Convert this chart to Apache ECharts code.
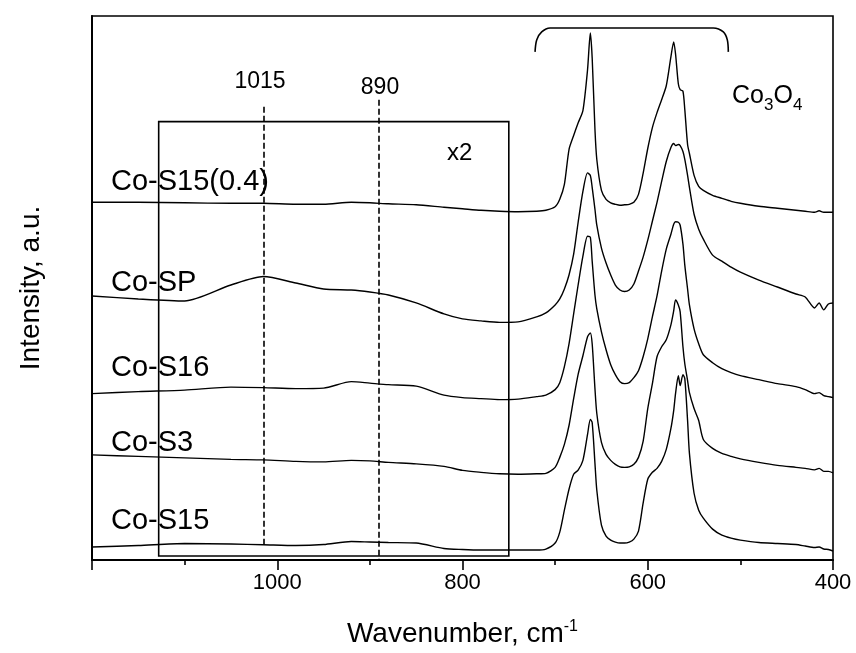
<!DOCTYPE html>
<html>
<head>
<meta charset="utf-8">
<style>
  html, body { margin: 0; padding: 0; background: #fff; }
  #chart { width: 856px; height: 653px; }
</style>
<script src="https://cdn.jsdelivr.net/npm/echarts@6/dist/echarts.min.js"></script>
</head>
<body>
<div id="chart"></div>
<script>
// shared wavenumber grid (cm-1)
const wavenumber = [1200, 1150, 1100, 1050, 1015, 980, 950, 920, 900, 880,
  850, 820, 800, 780, 760, 740, 720, 710, 700, 695,
  690, 685, 680, 675, 670, 665, 662, 660, 657, 655,
  650, 645, 640, 635, 630, 625, 620, 615, 610, 605,
  600, 595, 590, 585, 580, 575, 572, 570, 567, 565,
  562, 560, 557, 555, 550, 545, 540, 530, 520, 510,
  500, 480, 460, 440, 430, 420, 415, 410, 405, 400];

// stacked intensities, a.u. (1128-750 cm-1 part is already shown x2)
const coS15_04 = [35.9, 35.9, 35.85, 35.8, 35.8, 35.7, 35.7, 35.9, 35.85, 35.75,
  35.65, 35.4, 35.25, 35.1, 35.0, 34.95, 35.0, 35.1, 35.45, 36.2,
  37.7, 41.2, 42.6, 43.9, 45.1, 49.2, 52.9, 50.4, 43.2, 40.2,
  37.1, 36.2, 35.85, 35.7, 35.6, 35.65, 35.7, 35.9, 36.7, 38.8,
  41.3, 43.4, 44.9, 46.2, 47.6, 50.5, 52.0, 50.8, 47.8, 47.2,
  47.05, 45.2, 41.7, 40.8, 38.6, 37.5, 37.1, 36.6, 36.3, 36.0,
  35.8, 35.5, 35.3, 35.1, 35.0, 34.9, 35.05, 34.9, 34.9, 34.9];

const coSP = [26.5, 26.2, 26.0, 27.6, 28.45, 27.8, 27.2, 27.1, 26.9, 26.6,
  25.8, 24.7, 24.2, 24.0, 23.85, 23.9, 24.4, 24.8, 25.6, 26.2,
  27.2, 28.6, 30.7, 34.0, 37.0, 38.85, 38.6, 37.4, 35.2, 33.6,
  31.3, 29.8, 28.6, 27.6, 27.1, 26.95, 27.1, 27.7, 29.0, 30.4,
  32.1, 34.0, 35.9, 38.0, 40.0, 41.4, 41.8, 41.6, 41.7, 41.6,
  41.0, 40.2, 38.6, 37.4, 34.7, 33.2, 32.2, 30.6, 30.0, 29.4,
  28.9, 28.1, 27.4, 26.7, 26.4, 25.3, 25.8, 25.1, 25.7, 25.8];

const coS16 = [16.7, 16.9, 17.05, 17.35, 17.3, 17.2, 17.25, 17.9, 17.75, 17.6,
  17.45, 16.55, 16.3, 16.2, 16.1, 16.15, 16.4, 16.55, 17.1, 17.8,
  19.4, 21.7, 24.7, 27.7, 30.5, 32.5, 32.4, 30.0, 26.6, 25.2,
  22.9, 21.1, 19.6, 18.6, 17.9, 17.7, 17.8, 18.3, 19.0, 20.4,
  22.2, 24.4, 26.5, 29.0, 31.2, 32.7, 33.7, 33.95, 33.9, 33.6,
  31.7, 29.6, 27.2, 25.6, 23.2, 21.7, 20.6, 19.8, 19.2, 18.8,
  18.5, 18.1, 17.7, 17.4, 17.1, 16.7, 16.8, 16.5, 16.4, 16.3];

const coS3 = [10.55, 10.4, 10.25, 10.1, 10.05, 9.9, 9.85, 10.0, 9.95, 9.8,
  9.65, 9.4, 9.0, 8.8, 8.65, 8.6, 8.65, 8.7, 9.3, 10.3,
  11.6, 13.5, 16.2, 18.7, 20.5, 22.4, 22.8, 21.7, 17.2, 14.7,
  11.8, 10.6, 10.0, 9.6, 9.35, 9.3, 9.35, 9.6, 10.3, 11.9,
  15.2, 17.7, 20.4, 21.4, 22.1, 23.6, 25.0, 26.1, 25.6, 24.9,
  21.4, 19.7, 18.0, 16.8, 15.2, 14.0, 12.1, 11.2, 10.7, 10.4,
  10.15, 9.8, 9.5, 9.3, 9.2, 9.05, 9.2, 8.9, 8.9, 8.75];

const coS15 = [1.3, 1.45, 1.65, 1.6, 1.53, 1.45, 1.55, 1.85, 1.8, 1.75,
  1.7, 1.15, 1.05, 1.0, 1.0, 1.0, 1.0, 1.1, 1.7, 2.8,
  5.0, 7.1, 8.6, 9.05, 10.0, 12.6, 14.1, 13.8, 9.7, 7.0,
  3.5, 2.4, 2.0, 1.8, 1.7, 1.7, 1.8, 2.1, 2.9, 5.7,
  8.1, 8.8, 9.2, 9.9, 11.1, 13.2, 15.0, 16.7, 18.5, 17.5,
  18.6, 18.2, 14.0, 10.7, 6.7, 5.0, 4.2, 3.1, 2.5, 2.2,
  2.0, 1.75, 1.65, 1.55, 1.4, 1.25, 1.3, 1.1, 1.05, 0.9];

const sampleNames = ['Co-S15(0.4)', 'Co-SP', 'Co-S16', 'Co-S3', 'Co-S15'];
const sampleData = [coS15_04, coSP, coS16, coS3, coS15];

// x-axis ticks (cm-1)
const xMin = 400, xMax = 1200, xStep = 200;

// annotations
const markerWn = [1015, 890];
const markerTop = [45.5, 46.2];
const markerBottom = [1.3, 0];
const zoomBoxWn = [1128, 750];
const zoomBoxI = [0.4, 44.0];
const bracketWn = [721.7, 719.9, 714.5, 705.5, 529.2, 518.4, 514.1, 513.0];
const bracketI = [51.0, 52.2, 53.0, 53.4, 53.4, 53.0, 52.2, 51.0];

const FONT = '"Liberation Sans", Arial, Helvetica, sans-serif';

var myChart = echarts.init(document.getElementById('chart'));

function pairs(xs, ys) {
    return xs.map((x, i) => [x, ys[i]]);
}

const spectra = sampleNames.map((name, k) => ({
    name: name,
    type: 'line',
    data: pairs(wavenumber, sampleData[k]),
    symbol: 'none',
    smooth: 0.25,
    lineStyle: { color: '#000', width: 1.4 },
    silent: true,
    z: 3
}));

const bracket = {
    name: 'bracket',
    type: 'line',
    data: pairs(bracketWn, bracketI),
    symbol: 'none',
    smooth: 0.3,
    lineStyle: { color: '#000', width: 1.6 },
    silent: true,
    markArea: {
        silent: true,
        itemStyle: { color: 'rgba(0,0,0,0)', borderColor: '#000', borderWidth: 1.6 },
        data: [[
            { coord: [zoomBoxWn[0], zoomBoxI[1]] },
            { coord: [zoomBoxWn[1], zoomBoxI[0]] }
        ]]
    },
    markLine: {
        silent: true,
        symbol: 'none',
        label: { show: false },
        lineStyle: { color: '#000', width: 1.6, type: [6, 3] },
        data: markerWn.map((w, i) => [
            { coord: [w, markerTop[i]] },
            { coord: [w, markerBottom[i]] }
        ])
    }
};

function txt(text, x, y, size, align) {
    return {
        type: 'text',
        x: x,
        y: y,
        silent: true,
        style: {
            text: text,
            fontSize: size,
            fontFamily: FONT,
            fill: '#000',
            align: align || 'left',
            verticalAlign: 'middle'
        }
    };
}

const labelY = [182, 283, 368, 443, 521];

const option = {
    animation: false,
    backgroundColor: '#fff',
    grid: {
        left: 92, right: 23, top: 16, bottom: 91,
        show: true, borderColor: '#000', borderWidth: 1.6,
        containLabel: false
    },
    xAxis: {
        type: 'value',
        inverse: true,
        min: xMin,
        max: xMax,
        interval: xStep,
        name: '{a|Wavenumber, cm}{b|-1}',
        nameLocation: 'middle',
        nameGap: 59,
        nameTextStyle: {
            rich: {
                a: { fontSize: 28, fontFamily: FONT, color: '#000', lineHeight: 30 },
                b: { fontSize: 16, fontFamily: FONT, color: '#000', verticalAlign: 'top', lineHeight: 30 }
            }
        },
        axisLine: { lineStyle: { color: '#000', width: 2 } },
        axisTick: { length: 10, lineStyle: { color: '#000', width: 1.6 } },
        minorTick: { show: true, splitNumber: 2, length: 5, lineStyle: { color: '#000', width: 1.6 } },
        axisLabel: {
            fontSize: 22, fontFamily: FONT, color: '#000', margin: 12,
            formatter: v => (v === xMax ? '' : String(v))
        },
        splitLine: { show: false },
        minorSplitLine: { show: false }
    },
    yAxis: {
        type: 'value',
        min: 0,
        max: 54.6,
        name: 'Intensity, a.u.',
        nameLocation: 'middle',
        nameRotate: 90,
        nameGap: 47,
        nameTextStyle: { fontSize: 28, fontFamily: FONT, color: '#000' },
        axisLine: { show: true, lineStyle: { color: '#000', width: 2 } },
        axisTick: { show: false },
        axisLabel: { show: false },
        splitLine: { show: false }
    },
    graphic: [
        ...sampleNames.map((n, k) => txt(n, 111, labelY[k], 29)),
        txt(String(markerWn[0]), 260, 82, 23, 'center'),
        txt(String(markerWn[1]), 380, 88, 23, 'center'),
        txt('x2', 447, 153, 24),
        txt('Co', 732, 96, 25),
        txt('3', 764, 105, 17),
        txt('O', 773.5, 96, 25),
        txt('4', 793, 105, 17)
    ],
    series: [...spectra, bracket]
};

myChart.setOption(option);

window.addEventListener('resize', () => {
    if (myChart) {
        myChart.resize();
    }
});
</script>
</body>
</html>
